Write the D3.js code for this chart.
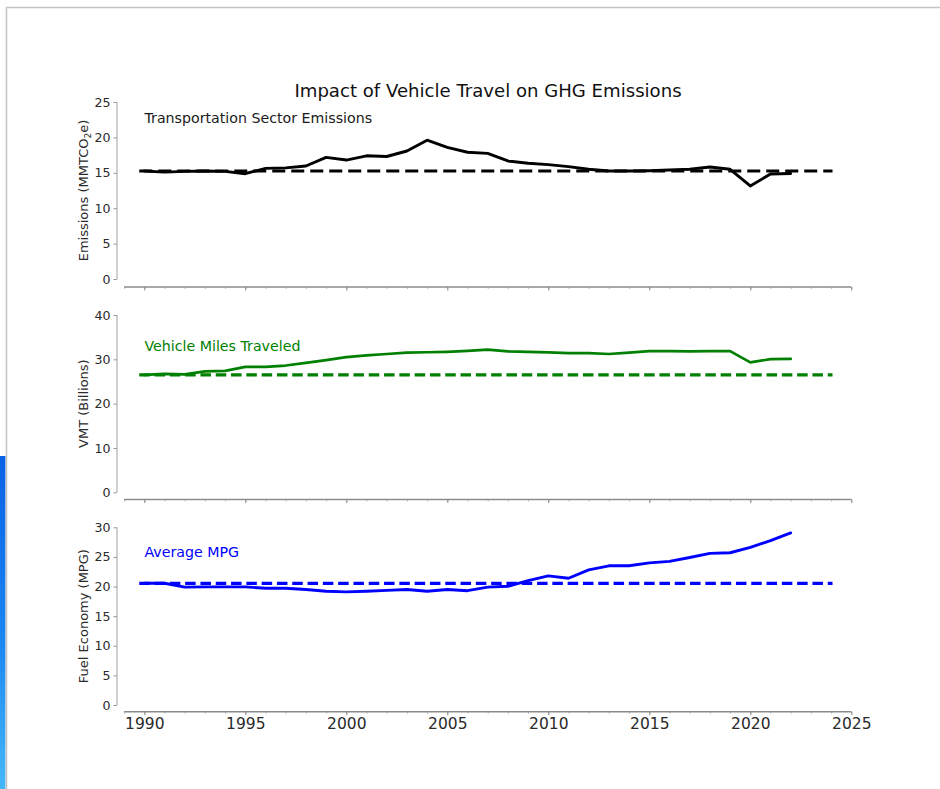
<!DOCTYPE html>
<html>
<head>
<meta charset="utf-8">
<script src="https://cdn.jsdelivr.net/npm/d3@7"></script>
<style>
  html, body { margin: 0; padding: 0; background: #fff; }
  svg { display: block; font-family: "DejaVu Sans", sans-serif; }
</style>
</head>
<body>
<svg id="chart" width="940" height="789"></svg>
<script>
// ---------------- DATA ----------------
const chartTitle = "Impact of Vehicle Travel on GHG Emissions";
const years = [1990, 1991, 1992, 1993, 1994, 1995, 1996, 1997, 1998, 1999,
               2000, 2001, 2002, 2003, 2004, 2005, 2006, 2007, 2008, 2009,
               2010, 2011, 2012, 2013, 2014, 2015, 2016, 2017, 2018, 2019,
               2020, 2021, 2022];
const emissions = [15.25, 15.1, 15.2, 15.25, 15.2, 14.87, 15.63, 15.7, 15.96, 17.18,
                   16.8, 17.4, 17.3, 18.08, 19.6, 18.6, 17.9, 17.75, 16.67, 16.34,
                   16.15, 15.87, 15.5, 15.25, 15.25, 15.3, 15.4, 15.5, 15.82, 15.5,
                   13.14, 14.83, 14.9];
const vmt = [26.5, 26.7, 26.6, 27.3, 27.4, 28.3, 28.3, 28.6, 29.2, 29.8,
             30.5, 30.9, 31.2, 31.5, 31.6, 31.7, 31.9, 32.2, 31.8, 31.7,
             31.55, 31.4, 31.4, 31.2, 31.5, 31.85, 31.85, 31.8, 31.85, 31.85,
             29.3, 30.05, 30.1];
const mpg = [20.55, 20.55, 19.9, 19.95, 19.95, 19.95, 19.7, 19.7, 19.5, 19.2,
             19.1, 19.2, 19.35, 19.5, 19.2, 19.5, 19.3, 19.9, 20.05, 21.0,
             21.8, 21.4, 22.8, 23.5, 23.5, 24.0, 24.25, 24.9, 25.6, 25.7,
             26.6, 27.75, 29.05];
const baselines = [15.25, 26.5, 20.55];
const baselineSpan = [1989.75, 2024.07];
const xDomain = [1989, 2025];
const xMajorTicks = [1990, 1995, 2000, 2005, 2010, 2015, 2020, 2025];
const xMinorTicks = [1989, 1990, 1991, 1992, 1993, 1994, 1995, 1996, 1997, 1998, 1999,
                     2000, 2001, 2002, 2003, 2004, 2005, 2006, 2007, 2008, 2009,
                     2010, 2011, 2012, 2013, 2014, 2015, 2016, 2017, 2018, 2019,
                     2020, 2021, 2022, 2023, 2024, 2025];
const yTicksEmissions = [0, 5, 10, 15, 20, 25];
const yTicksVmt = [0, 10, 20, 30, 40];
const yTicksMpg = [0, 5, 10, 15, 20, 25, 30];
const seriesLabels = ["Transportation Sector Emissions", "Vehicle Miles Traveled", "Average MPG"];
const axisLabels = ["Emissions (MMTCO|2|e)", "VMT (Billions)", "Fuel Economy (MPG)"];
const seriesColors = ["#000000", "#008000", "#0000ff"];

// ---------------- LAYOUT ----------------
const svg = d3.select("#chart");

// page frame
const defs = svg.append("defs");
const grad = defs.append("linearGradient").attr("id", "sidebar")
  .attr("x1", 0).attr("y1", 0).attr("x2", 0).attr("y2", 1);
grad.append("stop").attr("offset", "0%").attr("stop-color", "#0a62e6");
grad.append("stop").attr("offset", "55%").attr("stop-color", "#1a86f2");
grad.append("stop").attr("offset", "100%").attr("stop-color", "#45b8fa");
svg.append("rect").attr("x", 0).attr("y", 456).attr("width", 5.5).attr("height", 333)
  .attr("fill", "url(#sidebar)");
svg.append("path").attr("d", "M6.5,789 V7.5 H940")
  .attr("fill", "none").attr("stroke", "#c4c4c4").attr("stroke-width", 1.5);

const x = d3.scaleLinear().domain(xDomain).range([124.1, 851.3]);

const panels = [
  { values: emissions, ticks: yTicksEmissions, yTop: 102, yBottom: 279, xAxisY: 287, dash: "13,6", lw: 2.9, dlw: 3 },
  { values: vmt, ticks: yTicksVmt, yTop: 315, yBottom: 492.3, xAxisY: 499.5, dash: "10.5,4.8", lw: 2.7, dlw: 3.2 },
  { values: mpg, ticks: yTicksMpg, yTop: 527.3, yBottom: 705, xAxisY: 711.7, dash: "10.5,4.8", lw: 2.9, dlw: 3.2 }
];

// title
svg.append("text").attr("x", 488).attr("y", 97).attr("text-anchor", "middle")
  .attr("font-size", 18.1).attr("fill", "#111").text(chartTitle);

const textLabelY = [122.5, 351, 557];

panels.forEach((p, i) => {
  const ticks = p.ticks;
  const y = d3.scaleLinear().domain([ticks[0], ticks[ticks.length - 1]]).range([p.yBottom, p.yTop]);
  const g = svg.append("g");

  // y axis (offset spine)
  const yAxis = d3.axisLeft(y).tickValues(ticks).tickSize(3.5).tickPadding(3).tickFormat(d3.format("d"));
  const ya = g.append("g").attr("transform", "translate(117,0)").call(yAxis);
  ya.select(".domain").attr("stroke", "#b0b0b0").attr("stroke-width", 1.2)
    .attr("d", `M-0,${p.yBottom}V${p.yTop}`);
  ya.selectAll(".tick line").attr("stroke", "#999");
  ya.selectAll(".tick text").attr("font-size", 12.6).attr("fill", "#2a2a2a")
    .attr("font-family", "DejaVu Sans, sans-serif");

  // x axis minor ticks
  const xMinor = d3.axisBottom(x).tickValues(xMinorTicks).tickSize(2).tickFormat("");
  const xm = g.append("g").attr("transform", `translate(0,${p.xAxisY})`).call(xMinor);
  xm.select(".domain").remove();
  xm.selectAll(".tick line").attr("stroke", "#aaa").attr("stroke-width", 0.8);

  // x axis major ticks
  const xAxis = d3.axisBottom(x).tickValues(xMajorTicks).tickSize(3.5).tickPadding(3)
    .tickFormat(i === 2 ? d3.format("d") : "");
  const xa = g.append("g").attr("transform", `translate(0,${p.xAxisY})`).call(xAxis);
  xa.select(".domain").attr("stroke", "#8c8c8c").attr("stroke-width", 1.6)
    .attr("d", `M${x(xDomain[0])},0H${x(xDomain[1])}`);
  xa.selectAll(".tick line").attr("stroke", "#888");
  xa.selectAll(".tick text").attr("font-size", 15.5).attr("fill", "#2a2a2a")
    .attr("font-family", "DejaVu Sans, sans-serif");

  // axis label
  const lbl = axisLabels[i].split("|");
  const t = g.append("text")
    .attr("transform", `translate(${88},${(p.yTop + p.yBottom) / 2}) rotate(-90)`)
    .attr("text-anchor", "middle").attr("font-size", 13).attr("fill", "#2a2a2a");
  if (lbl.length === 3) {
    t.append("tspan").text(lbl[0]);
    t.append("tspan").attr("font-size", 9).attr("dy", 3).text(lbl[1]);
    t.append("tspan").attr("dy", -3).text(lbl[2]);
  } else {
    t.text(lbl[0]);
  }

  // baseline dashed line
  g.append("line")
    .attr("x1", x(baselineSpan[0])).attr("x2", x(baselineSpan[1]))
    .attr("y1", y(baselines[i])).attr("y2", y(baselines[i]))
    .attr("stroke", seriesColors[i]).attr("stroke-width", p.dlw)
    .attr("stroke-dasharray", p.dash);

  // series line
  const line = d3.line().x((d, k) => x(years[k])).y(d => y(d));
  g.append("path").datum(p.values)
    .attr("d", line)
    .attr("fill", "none").attr("stroke", seriesColors[i])
    .attr("stroke-width", p.lw).attr("stroke-linejoin", "round").attr("stroke-linecap", "round");

  // series label
  g.append("text").attr("x", 144.5).attr("y", textLabelY[i])
    .attr("font-size", 14.2).attr("fill", i === 0 ? "#1a1a1a" : seriesColors[i])
    .text(seriesLabels[i]);
});
</script>
</body>
</html>
